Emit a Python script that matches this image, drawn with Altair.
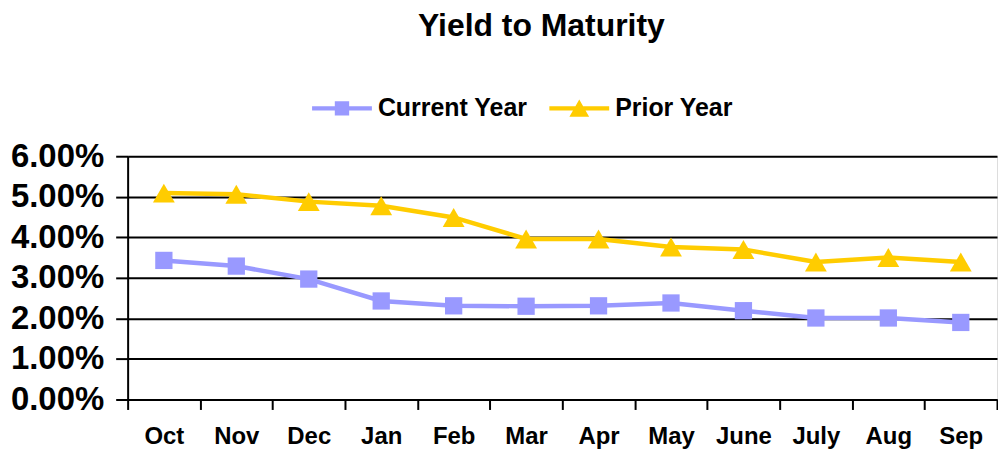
import altair as alt
import pandas as pd

months = ["Oct", "Nov", "Dec", "Jan", "Feb", "Mar", "Apr", "May", "June", "July", "Aug", "Sep"]
current_year = [3.43, 3.29, 2.97, 2.43, 2.31, 2.30, 2.31, 2.38, 2.19, 2.01, 2.01, 1.90]
prior_year = [5.09, 5.06, 4.88, 4.78, 4.49, 3.96, 3.96, 3.76, 3.70, 3.39, 3.50, 3.39]
series_names = ["Current Year", "Prior Year"]
series_colors = ["#9999FF", "#FFCC00"]
y_ticks = [0, 0.01, 0.02, 0.03, 0.04, 0.05, 0.06]

rows = []
for name, vals in zip(series_names, [current_year, prior_year]):
    for m, v in zip(months, vals):
        rows.append({"month": m, "series": name, "value": v / 100})
df = pd.DataFrame(rows)

FONT = "Liberation Sans"

x_enc = alt.X(
    "month:N", sort=months, title=None,
    scale=alt.Scale(paddingInner=0, paddingOuter=0),
    axis=alt.Axis(
        labelAngle=0, labelFont=FONT, labelFontSize=24, labelFontWeight="bold",
        labelColor="black", tickBand="extent", tickSize=10, tickWidth=2,
        tickColor="black", domainColor="black", domainWidth=2, labelPadding=15,
        grid=False,
    ),
)
y_enc = alt.Y(
    "value:Q", title=None,
    scale=alt.Scale(domain=[0, 0.06], nice=False),
    axis=alt.Axis(
        values=y_ticks, format=".2%", labelFont=FONT, labelFontSize=33,
        labelFontWeight="bold", labelColor="black", tickSize=12, tickWidth=2,
        tickColor="black", domainColor="black", domainWidth=2, labelPadding=12,
        grid=True, gridColor="black", gridWidth=2,
    ),
)

base = alt.Chart(df)

line_cur = base.transform_filter(alt.datum.series == series_names[0]).mark_line(
    color=series_colors[0], strokeWidth=4.5).encode(x=x_enc, y=y_enc)
line_pri = base.transform_filter(alt.datum.series == series_names[1]).mark_line(
    color=series_colors[1], strokeWidth=4.5).encode(x=x_enc, y=y_enc)
pts_cur = base.transform_filter(alt.datum.series == series_names[0]).mark_point(
    shape="square", filled=True, opacity=1, size=300, color=series_colors[0]).encode(x=x_enc, y=y_enc)
pts_pri = base.transform_filter(alt.datum.series == series_names[1]).mark_point(
    shape="triangle-up", filled=True, opacity=1, size=480, color=series_colors[1]).encode(x=x_enc, y=y_enc)

path_cur = "M-1,-0.07H1V0.07H-1Z M-0.24,-0.24H0.24V0.24H-0.24Z"
path_pri = "M-1,-0.07H1V0.07H-1Z M-0.33,0.28L0,-0.3L0.33,0.28Z"

leg = alt.Legend(
    title=None, orient="none", direction="horizontal", legendX=185, legendY=-78,
    labelFont=FONT, labelFontSize=25, labelFontWeight="bold", labelColor="black",
    symbolSize=3600, symbolStrokeWidth=0, labelOffset=6, columnPadding=21,
    padding=0, symbolOpacity=1,
)

legend_layer = base.mark_point(filled=True, opacity=0, size=10).encode(
    x=x_enc, y=y_enc,
    color=alt.Color("series:N", scale=alt.Scale(domain=series_names, range=series_colors), legend=leg),
    shape=alt.Shape("series:N", scale=alt.Scale(domain=series_names, range=[path_cur, path_pri]), legend=leg),
)

chart = alt.layer(line_cur, line_pri, pts_cur, pts_pri, legend_layer).properties(
    width=872, height=244,
    title=alt.Title("Yield to Maturity", font=FONT, fontSize=32, fontWeight="bold",
                    color="black", anchor="middle", frame="group", dx=-21, offset=36),
    padding={"left": 2, "top": 1, "right": 0, "bottom": 0},
).configure_view(stroke=None).configure(background="white")

chart.save("out.html", embed_options={"renderer": "svg", "actions": False})
